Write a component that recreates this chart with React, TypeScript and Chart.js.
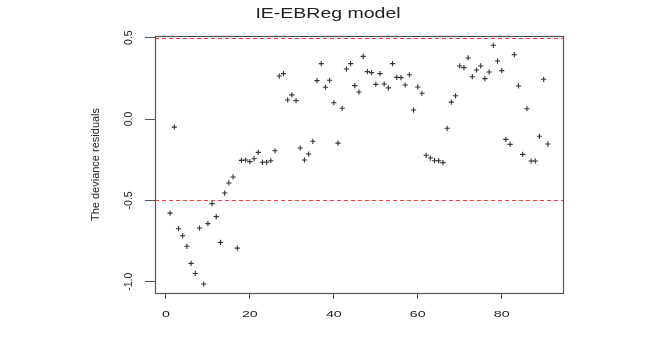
import React, { useEffect, useRef } from "react";
import { Chart, registerables } from "chart.js";

Chart.register(...registerables);

const chartTitle = "IE-EBReg model";
const yAxisTitle = "The deviance residuals";
const xTickValues = [0, 20, 40, 60, 80];
const yTickValues = [-1.0, -0.5, 0.0, 0.5];
const yTickLabels = ["-1.0", "-0.5", "0.0", "0.5"];
const refLines = [0.5, -0.5];

// deviance residuals, observations 1..91
const residuals = [
  -0.578, -0.05, -0.674, -0.717, -0.782, -0.887, -0.949, -0.670, -1.014, -0.643,
  -0.520, -0.600, -0.758, -0.455, -0.393, -0.356, -0.793, -0.254, -0.252, -0.262,
  -0.244, -0.205, -0.266, -0.266, -0.256, -0.195, 0.264, 0.279, 0.117, 0.148,
  0.113, -0.178, -0.252, -0.215, -0.137, 0.236, 0.340, 0.195, 0.238, 0.100,
  -0.148, 0.066, 0.307, 0.340, 0.205, 0.166, 0.385, 0.291, 0.285, 0.213,
  0.279, 0.215, 0.191, 0.340, 0.256, 0.254, 0.209, 0.272, 0.055, 0.197,
  0.158, -0.223, -0.240, -0.256, -0.256, -0.268, -0.057, 0.104, 0.143, 0.326,
  0.316, 0.375, 0.260, 0.301, 0.326, 0.248, 0.289, 0.453, 0.356, 0.297,
  -0.125, -0.156, 0.395, 0.203, -0.217, 0.063, -0.258, -0.258, -0.106, 0.244,
  -0.154,
];

const FONT = '"Liberation Sans", Arial, sans-serif';

function stretchedText(ctx: CanvasRenderingContext2D, text: string, x: number, y: number, sx: number, rot = 0) {
  ctx.save();
  ctx.translate(x, y);
  if (rot) ctx.rotate(rot);
  ctx.scale(sx, 1);
  ctx.fillText(text, 0, 0);
  ctx.restore();
}

const decorPlugin = {
  id: "decor",
  beforeDatasetsDraw(chart: any) {
    const ctx: CanvasRenderingContext2D = chart.ctx;
    const { left, right, top, bottom } = chart.chartArea;
    const ys = chart.scales.y;
    ctx.save();
    ctx.strokeStyle = "rgba(255,40,40,0.9)";
    ctx.lineWidth = 1;
    ctx.setLineDash([4, 3]);
    refLines.forEach((v) => {
      const py = Math.round(ys.getPixelForValue(v)) + 0.5;
      ctx.beginPath();
      ctx.moveTo(left, py);
      ctx.lineTo(right, py);
      ctx.stroke();
    });
    ctx.setLineDash([]);
    ctx.strokeStyle = "#555";
    ctx.lineWidth = 1.2;
    ctx.strokeRect(left + 0.5, top + 0.5, right - left, bottom - top);
    ctx.restore();
  },
  afterDraw(chart: any) {
    const ctx: CanvasRenderingContext2D = chart.ctx;
    const xs = chart.scales.x;
    const ys = chart.scales.y;
    const { top, bottom } = chart.chartArea;
    ctx.save();
    ctx.fillStyle = "#222";
    // title
    ctx.font = `15px ${FONT}`;
    ctx.textAlign = "center";
    ctx.textBaseline = "alphabetic";
    stretchedText(ctx, chartTitle, 328, 17.5, 1.3);
    // x tick labels
    ctx.font = `9.5px ${FONT}`;
    ctx.textBaseline = "middle";
    xTickValues.forEach((v) => {
      stretchedText(ctx, String(v), xs.getPixelForValue(v), 314, 1.5);
    });
    // y tick labels (rotated)
    ctx.font = `10.5px ${FONT}`;
    yTickValues.forEach((v, i) => {
      stretchedText(ctx, yTickLabels[i], 129.5, ys.getPixelForValue(v), 1, -Math.PI / 2);
    });
    // y title
    ctx.font = `11px ${FONT}`;
    stretchedText(ctx, yAxisTitle, 95.5, (top + bottom) / 2, 1, -Math.PI / 2);
    ctx.restore();
  },
};

export default function App() {
  const ref = useRef<HTMLCanvasElement>(null);
  useEffect(() => {
    document.body.style.margin = "0";
    const canvas = ref.current!;
    const points = residuals.map((r, i) => ({ x: i + 1, y: r }));
    const chart = new Chart(canvas, {
      type: "scatter",
      data: {
        datasets: [
          {
            data: points,
            pointStyle: "cross",
            pointRadius: 2.6,
            pointBorderWidth: 1.1,
            borderColor: "#333",
            backgroundColor: "#333",
          },
        ],
      },
      options: {
        responsive: false,
        animation: false,
        layout: { padding: { left: 0, right: 82, top: 36, bottom: 0 } },
        plugins: { legend: { display: false }, tooltip: { enabled: false }, title: { display: false } },
        scales: {
          x: {
            type: "linear",
            min: -2.6,
            max: 94.6,
            afterBuildTicks: (s: any) => {
              s.ticks = xTickValues.map((v) => ({ value: v }));
            },
            afterFit: (s: any) => {
              s.height = 52;
            },
            ticks: { display: false },
            grid: { drawOnChartArea: false, drawTicks: true, tickLength: 6, color: "#555", tickColor: "#555" },
            border: { display: false },
          },
          y: {
            type: "linear",
            min: -1.069,
            max: 0.51,
            afterBuildTicks: (s: any) => {
              s.ticks = yTickValues.map((v) => ({ value: v }));
            },
            afterFit: (s: any) => {
              s.width = 155;
            },
            ticks: { display: false },
            grid: { drawOnChartArea: false, drawTicks: true, tickLength: 10, color: "#555", tickColor: "#555" },
            border: { display: false },
          },
        },
      },
      plugins: [decorPlugin],
    } as any);
    return () => chart.destroy();
  }, []);
  return (
    <div style={{ position: "absolute", left: 0, top: 0, width: 645, height: 345, background: "#fff" }}>
      <canvas ref={ref} width={645} height={345} />
    </div>
  );
}
